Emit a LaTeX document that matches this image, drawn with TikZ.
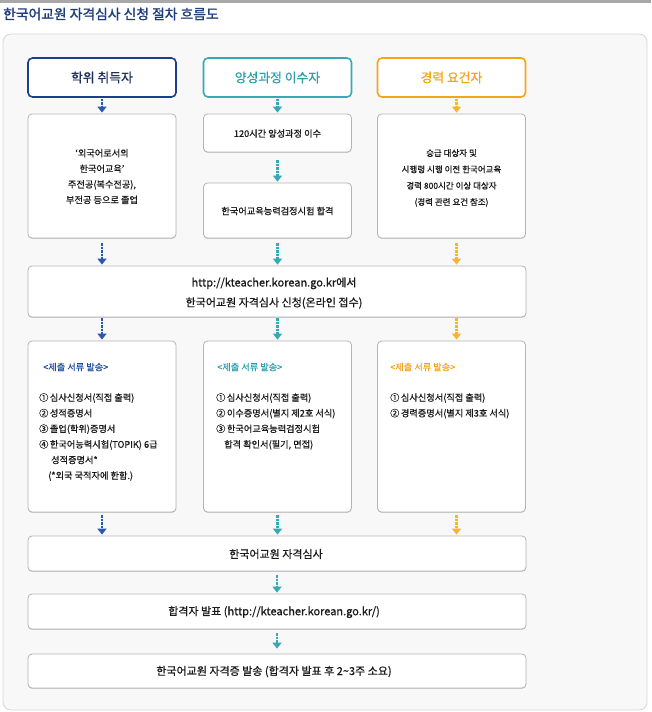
\documentclass[tikz,border=0pt]{standalone}
\usepackage{fontspec}
\setmainfont{Noto Sans CJK KR}[RawFeature={embolden=0.7}]
\newfontfamily\titlefont{Noto Sans CJK KR}[RawFeature={embolden=1.4}]
\usetikzlibrary{arrows.meta,shadows}
\definecolor{titleblue}{HTML}{1F3D7A}
\definecolor{navy}{HTML}{1B3F8B}
\definecolor{navytext}{HTML}{1E2F5E}
\definecolor{bluearrow}{HTML}{2A5AAD}
\definecolor{bluehead}{HTML}{1F4C9E}
\definecolor{teal}{HTML}{36A9B5}
\definecolor{tealtext}{HTML}{2C9FAB}
\definecolor{orange}{HTML}{F4A417}
\definecolor{orangearrow}{HTML}{F7B52A}
\definecolor{boxgray}{HTML}{B4B4B4}
\definecolor{panelgray}{HTML}{D8D8D8}
\definecolor{panelfill}{HTML}{F8F8F8}
\definecolor{topgray}{HTML}{A8A8A8}
\definecolor{bodytext}{HTML}{1A1A1A}
\tikzset{
  whitebox/.style={draw=boxgray, fill=white, rounded corners=4pt, line width=0.8pt,
    inner sep=0pt, drop shadow={shadow xshift=0pt, shadow yshift=-0.8pt, opacity=0.18, fill=black}},
  headbox/.style={fill=white, rounded corners=4.5pt, line width=1.6pt, inner sep=0pt,
    minimum width=148pt, minimum height=39pt, font=\fontsize{12.8}{15}\selectfont},
  colbox/.style={whitebox, minimum width=148pt},
  widebox/.style={whitebox, minimum width=498pt},
  bodyfont/.style={font=\fontsize{9.2}{15.6}\selectfont, text=bodytext, inner sep=0pt},
  widefont/.style={font=\fontsize{11}{20}\selectfont, text=bodytext, inner sep=0pt},
  flowarrow/.style={line width=2.1pt, dash pattern=on 2.2pt off 1.3pt,
    -{Triangle[width=9pt,length=6pt]}, shorten <=1pt, shorten >=1pt},
  bluearr/.style={flowarrow, draw=bluearrow, fill=bluearrow},
  tealarr/.style={flowarrow, draw=teal, fill=teal},
  orangearr/.style={flowarrow, draw=orangearrow, fill=orangearrow},
}
\begin{document}
\begin{tikzpicture}[x=1pt,y=-1pt]
\useasboundingbox (0,0) rectangle (651,712);
\fill[white] (0,0) rectangle (651,712);
\fill[topgray] (0,0) rectangle (651,2.5);
\node[anchor=west, inner sep=0pt, text=titleblue, font=\titlefont\fontsize{13.8}{16}\selectfont] (title) at (3,14) {한국어교원 자격심사 신청 절차 흐름도};
\draw[draw=panelgray, fill=panelfill, line width=0.8pt, rounded corners=8pt] (3,34) rectangle (647,710);

% header boxes
\node[headbox, draw=navy, text=navytext] (h1) at (102,77.5) {학위 취득자};
\node[headbox, draw=teal, text=tealtext] (h2) at (277.5,77.5) {양성과정 이수자};
\node[headbox, draw=orange, text=orange] (h3) at (451.5,77.5) {경력 요건자};

% row 2
\node[colbox, minimum height=124pt] (r1) at (102,176) {};
\node[bodyfont, align=center] (r1t) at (102,176.5) {‘외국어로서의\\한국어교육’\\주전공(복수전공),\\부전공 등으로 졸업};
\node[colbox, minimum height=38pt] (c2a) at (277.5,133) {};
\node[bodyfont] (c2at) at (277.5,133.5) {120시간 양성과정 이수};
\node[colbox, minimum height=55pt] (c2b) at (277.5,210.5) {};
\node[bodyfont] (c2bt) at (277.5,211) {한국어교육능력검정시험 합격};
\node[colbox, minimum height=124pt] (r3) at (451.5,176) {};
\node[bodyfont, align=center, font=\fontsize{8.5}{16.3}\selectfont] (r3t) at (451.5,178) {승급 대상자 및\\시행령 시행 이전 한국어교육\\경력 800시간 이상 대상자\\(경력 관련 요건 참조)};

% wide application box
\node[widebox, minimum height=51pt] (w) at (277,291.5) {};
\node[widefont, align=center] (wt) at (274,293) {http://kteacher.korean.go.kr에서\\한국어교원 자격심사 신청(온라인 접수)};

% row 4
\node[colbox, minimum height=171pt] (s1) at (102,426.5) {};
\node[colbox, minimum height=171pt] (s2) at (277.5,426.5) {};
\node[colbox, minimum height=171pt] (s3) at (451.5,426.5) {};
\node[bodyfont, anchor=west, text=bluehead] (s1h) at (43,367) {<제출 서류 발송>};
\node[bodyfont, anchor=west, text=tealtext] (s2h) at (217,367) {<제출 서류 발송>};
\node[bodyfont, anchor=west, text=orange] (s3h) at (390,367) {<제출 서류 발송>};
\node[bodyfont, anchor=north west, align=left] (s1t) at (39,393) {①\,심사신청서(직접 출력)\\②\,성적증명서\\③\,졸업(학위)증명서\\④\,한국어능력시험(TOPIK) 6급\\\hspace*{12pt}성적증명서*\\\hspace*{9pt}(*외국 국적자에 한함.)};
\node[bodyfont, anchor=north west, align=left] (s2t) at (216,393) {①\,심사신청서(직접 출력)\\②\,이수증명서(별지 제2호 서식)\\③\,한국어교육능력검정시험\\\hspace*{8pt}합격 확인서(필기, 면접)};
\node[bodyfont, anchor=north west, align=left] (s3t) at (390,393) {①\,심사신청서(직접 출력)\\②\,경력증명서(별지 제3호 서식)};

% final boxes
\node[widebox, minimum height=35pt] (fa) at (277,553.5) {};
\node[widefont] (fat) at (276,554) {한국어교원 자격심사};
\node[widebox, minimum height=35pt] (fb) at (277,611.5) {};
\node[widefont] (fbt) at (274,612) {합격자 발표 (http://kteacher.korean.go.kr/)};
\node[widebox, minimum height=34pt] (fc) at (277,671) {};
\node[widefont] (fct) at (274,671.5) {한국어교원 자격증 발송 (합격자 발표 후 2\textasciitilde3주 소요)};

% arrows: header -> row2
\draw[bluearr] (h1.south) -- (r1.north);
\draw[tealarr] (h2.south) -- (c2a.north);
\draw[orangearr] ([xshift=5pt]h3.south) -- ([xshift=5pt]r3.north);
\draw[tealarr] (c2a.south) ++(0,7) coordinate (c2am) (c2am) -- (c2b.north);
% row2 -> wide
\draw[bluearr] ([yshift=-4pt]r1.south) -- (r1.south |- w.north);
\draw[tealarr] ([yshift=-4pt]c2b.south) -- (c2b.south |- w.north);
\draw[orangearr] ([xshift=5pt,yshift=-4pt]r3.south) -- ([xshift=5pt]r3.south |- w.north);
% wide -> row4
\draw[bluearr] (r1.south |- w.south) -- (s1.north);
\draw[tealarr] (c2b.south |- w.south) -- (s2.north);
\draw[orangearr] ([xshift=5pt]r3.south |- w.south) -- ([xshift=5pt]s3.north);
% row4 -> final
\draw[bluearr] ([yshift=-2pt]s1.south) -- (s1.south |- fa.north);
\draw[tealarr] ([yshift=-2pt]s2.south) -- (s2.south |- fa.north);
\draw[orangearr] ([xshift=5pt,yshift=-2pt]s3.south) -- ([xshift=5pt]s3.south |- fa.north);
% final chain
\draw[tealarr] ([yshift=-3pt]fa.south) -- (fb.north);
\draw[tealarr] ([yshift=-3pt]fb.south) -- ([yshift=4pt]fc.north);
\end{tikzpicture}
\end{document}
